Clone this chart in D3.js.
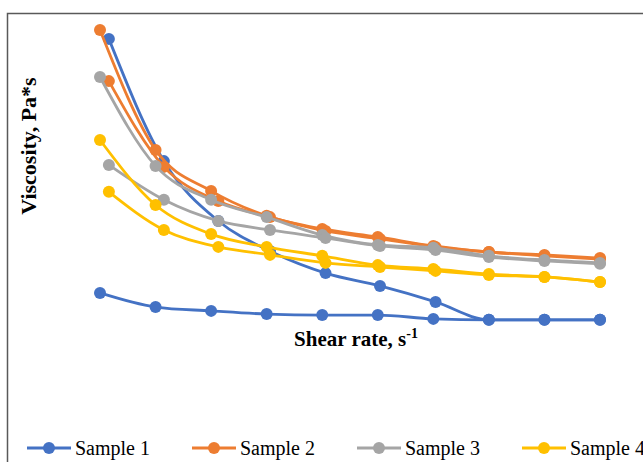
<!DOCTYPE html>
<html>
<head>
<meta charset="utf-8">
<script src="https://cdn.jsdelivr.net/npm/d3@7"></script>
<style>
  body { margin: 0; background: #fff; }
  text { font-family: "Liberation Serif", "Times New Roman", serif; }
</style>
</head>
<body>
<div id="chart"></div>
<script>
// shear rate, s-1 (the "a" curves and the shifted "b" curves)
var shearA = [10, 20, 30, 40, 50, 60, 70, 80, 90, 100];
var shearB = [11.6, 21.5, 31.3, 40.6, 50.6, 60.4, 70.4, 80, 90, 100];

// viscosity, Pa*s
var sample1a = [1.47, 1.03, 0.91, 0.81, 0.78, 0.78, 0.66, 0.63, 0.63, 0.63];
var sample1b = [9.41, 5.59, 3.72, 2.78, 2.09, 1.69, 1.19, 0.63, 0.63, 0.63];
var sample2a = [9.69, 5.94, 4.66, 3.88, 3.47, 3.22, 2.94, 2.75, 2.66, 2.56];
var sample2b = [8.09, 5.41, 4.34, 3.84, 3.41, 3.16, 2.91, 2.75, 2.63, 2.53];
var sample3a = [8.22, 5.44, 4.38, 3.84, 3.28, 2.97, 2.88, 2.63, 2.50, 2.41];
var sample3b = [5.47, 4.38, 3.72, 3.44, 3.19, 2.94, 2.81, 2.59, 2.47, 2.38];
var sample4a = [6.25, 4.22, 3.31, 2.91, 2.63, 2.34, 2.22, 2.06, 1.97, 1.81];
var sample4b = [4.63, 3.44, 2.91, 2.66, 2.41, 2.28, 2.16, 2.03, 1.97, 1.81];

var names = ["Sample 1", "Sample 2", "Sample 3", "Sample 4"];
var colors = ["#4472C4", "#ED7D31", "#A5A5A5", "#FFC000"];

var series = [
  {s: 0, x: shearA, y: sample1a}, {s: 0, x: shearB, y: sample1b},
  {s: 1, x: shearA, y: sample2a}, {s: 1, x: shearB, y: sample2b},
  {s: 2, x: shearA, y: sample3a}, {s: 2, x: shearB, y: sample3b},
  {s: 3, x: shearA, y: sample4a}, {s: 3, x: shearB, y: sample4b}
];

var width = 643, height = 462;

var svg = d3.select("#chart")
    .append("svg")
    .attr("width", width)
    .attr("height", height);

// chart frame (cropped on the right and bottom)
svg.append("rect")
    .attr("x", 7.5)
    .attr("y", 13.5)
    .attr("width", 700)
    .attr("height", 500)
    .attr("fill", "none")
    .attr("stroke", "#595959")
    .attr("stroke-width", 1.5);

var x = d3.scaleLinear().domain([10, 100]).range([100, 600]);
var y = d3.scaleLinear().domain([0, 10]).range([340, 20]);

var line = d3.line()
    .x(function(d) { return x(d[0]); })
    .y(function(d) { return y(d[1]); })
    .curve(d3.curveMonotoneX);

series.forEach(function(ser) {
  var pts = ser.x.map(function(v, i) { return [v, ser.y[i]]; });
  var g = svg.append("g");
  g.append("path")
      .datum(pts)
      .attr("d", line)
      .attr("fill", "none")
      .attr("stroke", colors[ser.s])
      .attr("stroke-width", 2.8);
  g.selectAll("circle")
      .data(pts)
      .enter().append("circle")
      .attr("cx", function(d) { return x(d[0]); })
      .attr("cy", function(d) { return y(d[1]); })
      .attr("r", 6)
      .attr("fill", colors[ser.s]);
});

// axis titles
svg.append("text")
    .attr("transform", "translate(36,146) rotate(-90)")
    .attr("text-anchor", "middle")
    .style("font-size", "22px")
    .style("font-weight", "bold")
    .text("Viscosity, Pa*s");

var xt = svg.append("text")
    .attr("x", 356)
    .attr("y", 346)
    .attr("text-anchor", "middle")
    .style("font-size", "21px")
    .style("font-weight", "bold");
xt.append("tspan").text("Shear rate, s");
xt.append("tspan").attr("dy", -8).style("font-size", "14px").text("-1");

// legend
var leg = svg.selectAll(".legend")
    .data(names)
    .enter().append("g")
    .attr("class", "legend")
    .attr("transform", function(d, i) { return "translate(" + (27 + i * 165) + ",448)"; });

leg.append("line")
    .attr("x1", 0).attr("x2", 44)
    .attr("stroke", function(d, i) { return colors[i]; })
    .attr("stroke-width", 2.8);

leg.append("circle")
    .attr("cx", 22)
    .attr("r", 6)
    .attr("fill", function(d, i) { return colors[i]; });

leg.append("text")
    .attr("x", 48)
    .attr("y", 7)
    .style("font-size", "20px")
    .text(function(d) { return d; });
</script>
</body>
</html>
